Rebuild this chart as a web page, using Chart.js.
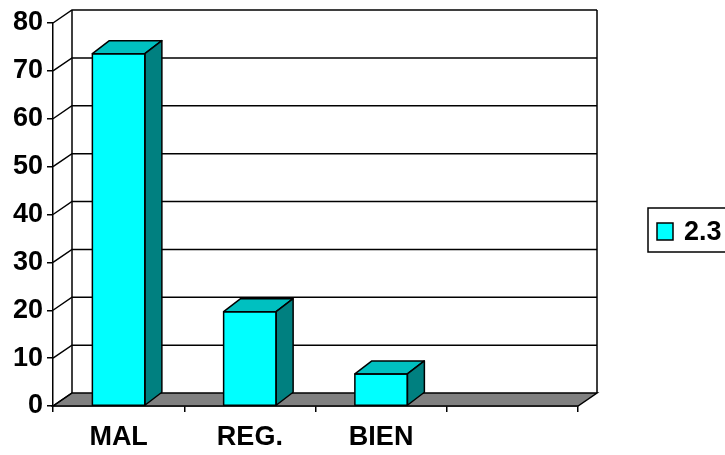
<!DOCTYPE html>
<html>
<head>
<meta charset="utf-8">
<script src="https://cdn.jsdelivr.net/npm/chart.js@4.4.0/dist/chart.umd.min.js"></script>
<style>
  body { margin: 0; background: #fff; }
  canvas { display: block; }
</style>
</head>
<body>
<canvas id="chart" width="725" height="455"></canvas>
<script>
'use strict';

const categories = ['MAL', 'REG.', 'BIEN', ''];
const seriesValues = [73.6, 19.7, 6.7, null];
const seriesLabel = '2.3';
const yTicks = [0, 10, 20, 30, 40, 50, 60, 70, 80];

// wall depth offset (back wall sits up and right)
const wallDx = 19;
const wallDy = -13;
// bar depth offset
const barDx = 17;
const barDy = -13;

const frontColor = '#00FFFF';
const topColor = '#00C0C0';
const sideColor = '#008080';
const fontFamily = '"Liberation Sans", Arial, sans-serif';

const walls3d = {
  id: 'walls3d',
  beforeDatasetsDraw(chart) {
    const ctx = chart.ctx;
    const area = chart.chartArea;
    const yScale = chart.scales.y;
    ctx.save();
    ctx.strokeStyle = '#000';
    ctx.lineWidth = 1.5;

    // floor
    const y0 = yScale.getPixelForValue(0);
    ctx.fillStyle = '#808080';
    ctx.beginPath();
    ctx.moveTo(area.left, y0);
    ctx.lineTo(area.right, y0);
    ctx.lineTo(area.right + wallDx, y0 + wallDy);
    ctx.lineTo(area.left + wallDx, y0 + wallDy);
    ctx.closePath();
    ctx.fill();
    ctx.stroke();

    // back wall gridlines + side wall diagonals
    yTicks.forEach(v => {
      const y = yScale.getPixelForValue(v);
      ctx.beginPath();
      ctx.moveTo(area.left, y);
      ctx.lineTo(area.left + wallDx, y + wallDy);
      if (v > 0) {
        ctx.lineTo(area.right + wallDx, y + wallDy);
      }
      ctx.stroke();
    });

    // back wall verticals
    const yTop = yScale.getPixelForValue(80);
    ctx.beginPath();
    ctx.moveTo(area.left + wallDx, yTop + wallDy);
    ctx.lineTo(area.left + wallDx, y0 + wallDy);
    ctx.moveTo(area.right + wallDx, yTop + wallDy);
    ctx.lineTo(area.right + wallDx, y0 + wallDy);
    ctx.stroke();
    ctx.restore();
  },
  afterDatasetsDraw(chart) {
    const ctx = chart.ctx;
    const meta = chart.getDatasetMeta(0);
    ctx.save();
    ctx.strokeStyle = '#000';
    ctx.lineWidth = 1.5;
    ctx.lineJoin = 'round';
    meta.data.forEach((bar, i) => {
      if (seriesValues[i] === null) return;
      const p = bar.getProps(['x', 'y', 'base', 'width'], true);
      const l = p.x - p.width / 2;
      const r = p.x + p.width / 2;
      const t = p.y;
      const b = p.base;
      // top face
      ctx.fillStyle = topColor;
      ctx.beginPath();
      ctx.moveTo(l, t);
      ctx.lineTo(l + barDx, t + barDy);
      ctx.lineTo(r + barDx, t + barDy);
      ctx.lineTo(r, t);
      ctx.closePath();
      ctx.fill();
      ctx.stroke();
      // side face
      ctx.fillStyle = sideColor;
      ctx.beginPath();
      ctx.moveTo(r, t);
      ctx.lineTo(r + barDx, t + barDy);
      ctx.lineTo(r + barDx, b + barDy);
      ctx.lineTo(r, b);
      ctx.closePath();
      ctx.fill();
      ctx.stroke();
      // front face outline
      ctx.strokeRect(l, t, r - l, b - t);
    });
    ctx.restore();
  },
  afterDraw(chart) {
    // legend box like the original (cut off at the right)
    const ctx = chart.ctx;
    ctx.save();
    ctx.strokeStyle = '#000';
    ctx.lineWidth = 1.5;
    ctx.strokeRect(648, 208, 90, 44);
    ctx.fillStyle = frontColor;
    ctx.fillRect(657, 223, 16, 17);
    ctx.strokeRect(657, 223, 16, 17);
    ctx.fillStyle = '#000';
    ctx.font = 'bold 27px ' + fontFamily;
    ctx.textBaseline = 'middle';
    ctx.fillText(chart.data.datasets[0].label, 684, 233);
    ctx.restore();
  }
};

const canvasEl = document.getElementById('chart');

new Chart(canvasEl, {
  type: 'bar',
  data: {
    labels: categories,
    datasets: [{
      label: seriesLabel,
      data: seriesValues,
      backgroundColor: frontColor,
      borderWidth: 0,
      barPercentage: 0.4,
      categoryPercentage: 1
    }]
  },
  options: {
    responsive: false,
    animation: false,
    devicePixelRatio: 1,
    layout: {
      padding: { top: 23, right: 147, left: 0, bottom: 0 }
    },
    plugins: {
      legend: { display: false },
      tooltip: { enabled: false }
    },
    scales: {
      x: {
        afterFit(scale) { scale.height = 49; },
        grid: {
          drawOnChartArea: false,
          drawTicks: true,
          tickLength: 6,
          color: '#000',
          lineWidth: 1.5
        },
        border: { display: true, color: '#000', width: 1.5 },
        ticks: {
          color: '#000',
          padding: 9,
          maxRotation: 0,
          font: { family: fontFamily, size: 27, weight: 'bold' }
        }
      },
      y: {
        min: 0,
        max: 80,
        afterFit(scale) { scale.width = 53; },
        afterBuildTicks(scale) {
          scale.ticks = yTicks.map(v => ({ value: v }));
        },
        grid: {
          drawOnChartArea: false,
          drawTicks: true,
          tickLength: 6,
          color: '#000',
          lineWidth: 1.5
        },
        border: { display: true, color: '#000', width: 1.5 },
        ticks: {
          color: '#000',
          padding: 4,
          font: { family: fontFamily, size: 27, weight: 'bold' }
        }
      }
    }
  },
  plugins: [walls3d]
});
</script>
</body>
</html>
